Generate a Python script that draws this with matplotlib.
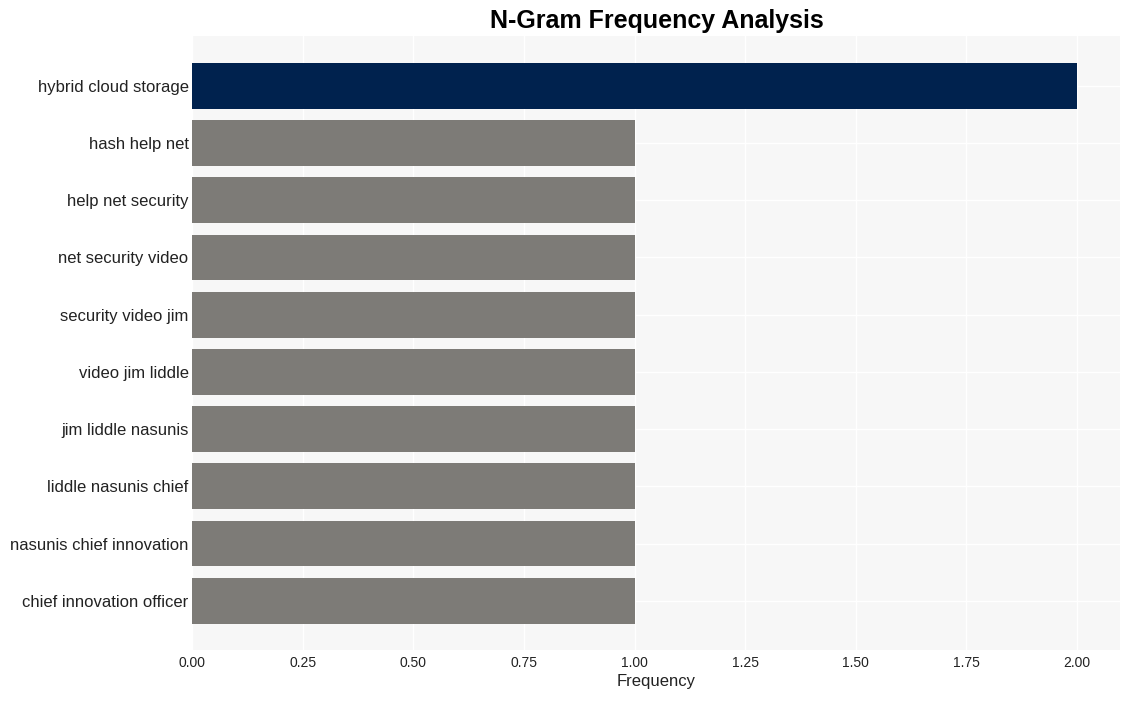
import matplotlib
matplotlib.use('Agg')
import matplotlib.pyplot as plt

plt.rcParams['font.family'] = ['Liberation Sans', 'DejaVu Sans']

ngrams = ['hybrid cloud storage', 'hash help net', 'help net security',
          'net security video', 'security video jim', 'video jim liddle',
          'jim liddle nasunis', 'liddle nasunis chief',
          'nasunis chief innovation', 'chief innovation officer']
counts = [2, 1, 1, 1, 1, 1, 1, 1, 1, 1]
colors = ['#00224e'] + ['#7d7b77'] * 9

fig = plt.figure(figsize=(11.32, 7.01), dpi=100)
ax = fig.add_axes([0.1696, 0.0728, 0.8198, 0.8758])
ax.set_facecolor('#f7f7f7')

pos = list(range(len(ngrams)))
ax.barh(pos, counts, height=0.8, color=colors, zorder=2)
ax.set_yticks(pos)
ax.set_yticklabels(ngrams, fontsize=12, color='#222222')
ax.set_ylim(9.86, -0.87)
ax.set_xlim(0, 2.097)
ax.set_xticks([0, 0.25, 0.5, 0.75, 1.0, 1.25, 1.5, 1.75, 2.0])
ax.set_xticklabels(['0.00', '0.25', '0.50', '0.75', '1.00', '1.25', '1.50', '1.75', '2.00'])
ax.tick_params(axis='x', labelsize=10, colors='#222222', length=0, pad=4)
ax.tick_params(axis='y', length=0, pad=2.5)
ax.grid(True, color='white', linewidth=1, zorder=0)
ax.set_axisbelow(True)
for s in ax.spines.values():
    s.set_visible(False)

ax.set_xlabel('Frequency', fontsize=12, color='#222222', labelpad=3)
fig.suptitle('N-Gram Frequency Analysis', fontsize=18, fontweight='bold', x=0.58, y=0.987)

fig.savefig('out.png', dpi=100)
